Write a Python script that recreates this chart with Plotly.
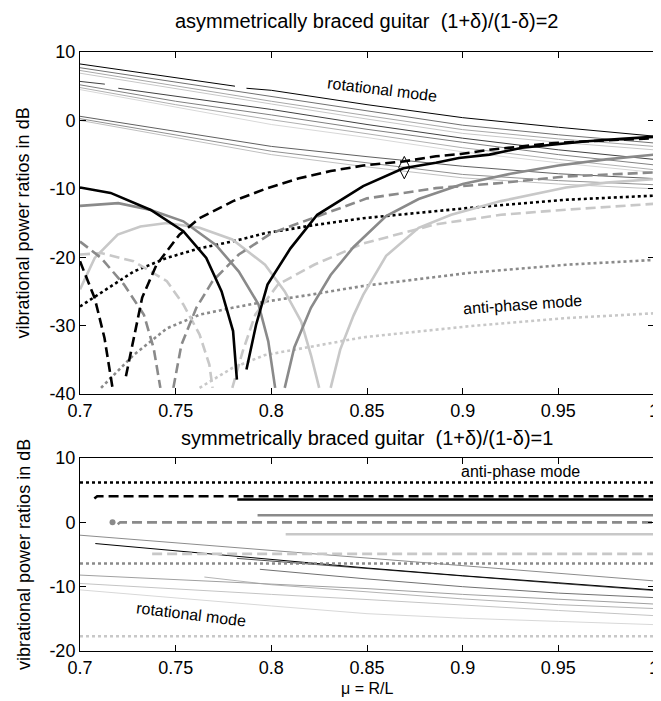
import plotly.graph_objects as go

# ---------------- axis ticks ----------------
MU_TICKS = [0.7, 0.75, 0.8, 0.85, 0.9, 0.95, 1.0]
MU_TICK_LABELS = ["0.7", "0.75", "0.8", "0.85", "0.9", "0.95", "1"]
TOP_DB_TICKS = [10, 0, -10, -20, -30, -40]
TOP_DB_LABELS = ["10", "0", "-10", "-20", "-30", "-40"]
BOT_DB_TICKS = [10, 0, -10, -20]
BOT_DB_LABELS = ["10", "0", "-10", "-20"]

TOP_TITLE = "asymmetrically braced guitar  (1+δ)/(1-δ)=2"
BOT_TITLE = "symmetrically braced guitar  (1+δ)/(1-δ)=1"
Y_TITLE = "vibrational power ratios in dB"
X_TITLE = "μ = R/L"

# ---------------- top panel: thin "rotational mode" curves ----------------
rot_mu = [0.7, 0.75, 0.8, 0.85, 0.9, 0.95, 1.0]
rot_top_1_mu = [0.7, 0.75, 0.781, None, 0.787, 0.8, 0.85, 0.9, 0.95, 1.0]
rot_top_1 = [8.25, 6.3, 5.0, None, 4.7, 4.4, 2.3, 0.4, -1.0, -2.3]
rot_top_2 = [7.7, 5.6, 3.5, 1.5, -0.7, -2.1, -3.3]
rot_top_3 = [7.3, 5.0, 2.8, 0.7, -1.35, -2.7, -3.8]
rot_top_4 = [6.9, 4.6, 2.4, 0.2, -1.9, -3.2, -4.3]
rot_top_5_mu = [0.7, 0.713, None, 0.72, 0.75, 0.8, 0.85, 0.9, 0.95, 1.0]
rot_top_5 = [5.7, 5.3, None, 4.7, 3.5, 1.6, -0.6, -2.6, -4.3, -5.7]
rot_top_6 = [5.2, 2.8, 0.8, -1.3, -3.2, -5.0, -6.5]
rot_top_7 = [4.8, 2.3, 0.1, -2.0, -4.0, -5.7, -7.2]
rot_top_8 = [4.5, 2.0, -0.6, -2.5, -4.6, -6.2, -7.6]
rot_top_9 = [0.6, -1.6, -3.8, -5.3, -6.7, -7.8, -8.5]
rot_top_10 = [0.25, -2.1, -4.5, -6.2, -7.9, -8.8, -9.4]
rot_top_11 = [0.0, -2.5, -5.0, -6.8, -8.4, -9.3, -10.0]

# ---------------- top panel: thick curves ----------------
bsolid_mu = [0.7, 0.716, 0.737, 0.754, 0.766, 0.774, 0.780, 0.782, None,
             0.787, 0.792, 0.798, 0.810, 0.824, 0.838, 0.848, 0.869, 0.886, 0.898,
             0.914, 0.931, 0.948, 0.965, 0.983, 1.0]
bsolid_db = [-9.8, -10.6, -13.1, -16.2, -20.1, -25.0, -30.8, -37.9, None,
             -36.4, -29.9, -24.0, -18.7, -13.8, -11.3, -9.6, -7.0, -6.2, -5.5,
             -5.0, -4.0, -3.55, -3.05, -2.7, -2.4]

bdash_mu = [0.7, 0.7077, 0.7128, 0.717, None, 0.724, 0.7283, 0.7325, 0.740, 0.752,
            0.7625, 0.780, 0.797, 0.814, 0.831, 0.848, 0.869, 0.886, 0.899, 0.914,
            0.931, 0.948, 0.965, 1.0]
bdash_db = [-20.6, -26.0, -31.8, -39.1, None, -37.4, -31.3, -25.9, -21.1, -16.7,
            -14.3, -11.8, -10.0, -8.5, -7.4, -6.6, -6.0, -5.25, -4.9, -4.3,
            -3.8, -3.3, -3.05, -2.6]

gsolid_mu = [0.7, 0.72, 0.737, 0.754, 0.771, 0.783, 0.7933, 0.7984, 0.802, None,
             0.807, 0.812, 0.8207, 0.831, 0.843, 0.86, 0.877, 0.9, 0.925, 0.95, 0.975, 1.0]
gsolid_db = [-12.5, -12.1, -13.1, -14.75, -18.2, -22.1, -26.9, -32.3, -39.1, None,
             -39.1, -33.2, -27.4, -22.6, -18.5, -14.0, -11.5, -9.3, -7.8, -6.6, -5.7, -5.0]

gdash_mu = [0.7, 0.711, 0.723, 0.7334, 0.7385, 0.742, None, 0.7488, 0.753, 0.7608,
            0.7693, 0.783, 0.8, 0.8224, 0.85, 0.886, 0.92, 0.954, 1.0]
gdash_db = [-17.7, -20.1, -24.0, -28.4, -33.3, -39.1, None, -39.1, -32.8, -27.4,
            -23.5, -19.6, -16.5, -14.2, -11.4, -9.9, -9.15, -8.2, -7.6]

lsolid_mu = [0.7, 0.7077, 0.7197, 0.7316, 0.7454, 0.7625, 0.7796, 0.7967, 0.807,
             0.8156, 0.8207, 0.825, None, 0.831, 0.836, 0.843, 0.848, 0.86, 0.877,
             0.894, 0.92, 0.954, 0.975, 1.0]
lsolid_db = [-24.7, -20.1, -16.7, -15.5, -15.0, -15.7, -17.4, -21.1, -25.0,
             -29.4, -34.3, -39.1, None, -39.1, -33.5, -28.5, -25.5, -19.8, -15.7,
             -13.8, -11.8, -9.8, -9.1, -8.6]

ldash_mu = [0.7, 0.711, 0.728, 0.7454, 0.754, 0.7625, 0.7676, 0.7693, None, 0.7796,
            0.785, 0.7916, 0.8035, 0.8224, 0.848, 0.8857, 0.92, 0.954, 1.0]
ldash_db = [-19.6, -19.4, -20.6, -23.5, -26.9, -31.3, -35.7, -39.1, None, -39.1,
            -33.8, -28.4, -24.0, -21.1, -18.0, -15.2, -13.8, -13.05, -12.2]

bdot_mu = [0.7, 0.7094, 0.728, 0.7454, 0.7625, 0.7796, 0.7967, 0.8224, 0.848, 0.903, 0.954, 1.0]
bdot_db = [-27.2, -25.5, -22.1, -20.1, -18.7, -17.7, -16.5, -15.3, -14.3, -12.8, -11.6, -11.0]

gdot_mu = [0.711, 0.728, 0.7454, 0.7625, 0.7796, 0.7967, 0.8224, 0.848, 0.903, 0.954, 1.0]
gdot_db = [-39.1, -34.3, -30.4, -28.4, -27.4, -26.5, -25.4, -24.2, -22.3, -21.1, -20.4]

ldot_mu = [0.7625, 0.7796, 0.7967, 0.8224, 0.848, 0.903, 0.954, 1.0]
ldot_db = [-39.1, -36.2, -34.3, -33.0, -31.7, -30.1, -28.9, -28.2]

marker_mu = [0.8695]
marker_db = [-6.9]

# ---------------- bottom panel: horizontal (anti-phase) lines ----------------
sym_bdot_mu = [0.7, 1.0];            sym_bdot_db = [6.2, 6.2]
sym_bdash_mu = [0.7075, 0.709, 1.0]; sym_bdash_db = [3.7, 4.05, 4.05]
sym_bsolid_mu = [0.7822, 1.0];       sym_bsolid_db = [3.55, 3.55]
sym_gsolid_mu = [0.7928, 1.0];       sym_gsolid_db = [1.1, 1.1]
sym_gdash_mu = [0.7197, 0.721, 1.0]; sym_gdash_db = [-0.3, 0.0, 0.0]
sym_gdash_dot_mu = [0.717];          sym_gdash_dot_db = [0.0]
sym_lsolid_mu = [0.8075, 1.0];       sym_lsolid_db = [-1.85, -1.85]
sym_ldash_mu = [0.7377, 1.0];        sym_ldash_db = [-4.9, -4.9]
sym_gdot_mu = [0.7, 1.0];            sym_gdot_db = [-6.4, -6.4]
sym_ldot_mu = [0.7, 1.0];            sym_ldot_db = [-17.7, -17.7]

# ---------------- bottom panel: thin rotational lines ----------------
rot_bot_mu_full = [0.7, 0.75, 0.8, 0.85, 0.9, 0.95, 1.0]
rot_bot_1 = [-2.0, -3.2, -4.4, -5.6, -6.8, -8.0, -9.1]
rot_bot_2_mu = [0.708, 0.75, 0.8, 0.85, 0.9, 0.95, 1.0]
rot_bot_2 = [-3.3, -4.4, -5.8, -7.1, -8.3, -9.4, -10.5]
rot_bot_3_mu = [0.782, 0.85, 0.9, 0.95, 1.0]
rot_bot_3 = [-5.6, -7.2, -8.4, -9.5, -10.6]
rot_bot_4_mu = [0.794, 0.85, 0.9, 0.95, 1.0]
rot_bot_4 = [-7.3, -8.8, -10.0, -11.0, -11.7]
rot_bot_5 = [-8.2, -8.9, -9.6, -10.3, -11.2, -12.0, -12.7]
rot_bot_6_mu = [0.765, 0.8, 0.85, 0.9, 0.95, 1.0]
rot_bot_6 = [-8.5, -9.7, -10.8, -11.9, -12.8, -13.4]
rot_bot_7 = [-9.5, -10.4, -11.2, -12.0, -12.9, -13.7, -14.5]
rot_bot_8 = [-10.5, -11.8, -13.0, -14.2, -14.9, -15.4, -15.9]

# ---------------- styles ----------------
BLACK = "#000000"
GRAY = "#8a8a8a"
LIGHT = "#c8c8c8"
DASH = "10px,5px"
DOT = "3px,3px"
THICK = 2.6
FONT = "Liberation Sans, Arial, sans-serif"

fig = go.Figure()


def add(mu, db, color, width=1.0, dash="solid", panel=1):
    fig.add_trace(go.Scatter(
        x=mu, y=db, mode="lines",
        line=dict(color=color, width=width, dash=dash),
        xaxis="x" if panel == 1 else "x2",
        yaxis="y" if panel == 1 else "y2",
        hoverinfo="skip", showlegend=False, connectgaps=False))


# top thin lines
add(rot_mu, rot_top_11, "#c0c0c0")
add(rot_mu, rot_top_10, "#909090")
add(rot_mu, rot_top_9, "#606060")
add(rot_mu, rot_top_8, "#d8d8d8")
add(rot_mu, rot_top_7, "#b0b0b0")
add(rot_mu, rot_top_6, "#808080")
add(rot_top_5_mu, rot_top_5, "#404040")
add(rot_mu, rot_top_4, "#c8c8c8")
add(rot_mu, rot_top_3, "#a8a8a8")
add(rot_mu, rot_top_2, "#707070")
add(rot_top_1_mu, rot_top_1, "#000000")

# top thick lines
add(ldot_mu, ldot_db, LIGHT, THICK, DOT)
add(gdot_mu, gdot_db, GRAY, THICK, DOT)
add(bdot_mu, bdot_db, BLACK, THICK, DOT)
add(ldash_mu, ldash_db, LIGHT, THICK, DASH)
add(lsolid_mu, lsolid_db, LIGHT, THICK)
add(gdash_mu, gdash_db, GRAY, THICK, DASH)
add(gsolid_mu, gsolid_db, GRAY, THICK)
add(bdash_mu, bdash_db, BLACK, THICK, DASH)
add(bsolid_mu, bsolid_db, BLACK, THICK)

fig.add_trace(go.Scatter(x=marker_mu, y=marker_db, mode="markers",
                         marker=dict(symbol="diamond-tall-open", size=16, color=BLACK,
                                     line=dict(width=1, color=BLACK)),
                         hoverinfo="skip", showlegend=False, xaxis="x", yaxis="y"))

# bottom thin lines
add(rot_bot_mu_full, rot_bot_8, "#d8d8d8", 1.0, panel=2)
add(rot_bot_mu_full, rot_bot_7, "#c4c4c4", 1.0, panel=2)
add(rot_bot_6_mu, rot_bot_6, "#b4b4b4", 1.0, panel=2)
add(rot_bot_mu_full, rot_bot_5, "#a0a0a0", 1.0, panel=2)
add(rot_bot_4_mu, rot_bot_4, "#707070", 1.0, panel=2)
add(rot_bot_3_mu, rot_bot_3, "#505050", 1.0, panel=2)
add(rot_bot_mu_full, rot_bot_1, "#8c8c8c", 1.0, panel=2)
add(rot_bot_2_mu, rot_bot_2, BLACK, 1.0, panel=2)

# bottom thick lines
add(sym_ldot_mu, sym_ldot_db, LIGHT, THICK, DOT, 2)
add(sym_gdot_mu, sym_gdot_db, GRAY, THICK, DOT, 2)
add(sym_bdot_mu, sym_bdot_db, BLACK, THICK, DOT, 2)
add(sym_ldash_mu, sym_ldash_db, LIGHT, THICK, DASH, 2)
add(sym_lsolid_mu, sym_lsolid_db, LIGHT, THICK, "solid", 2)
add(sym_gdash_mu, sym_gdash_db, GRAY, THICK, DASH, 2)
add(sym_gsolid_mu, sym_gsolid_db, GRAY, THICK, "solid", 2)
add(sym_bsolid_mu, sym_bsolid_db, BLACK, THICK, "solid", 2)
add(sym_bdash_mu, sym_bdash_db, BLACK, THICK, DASH, 2)
fig.add_trace(go.Scatter(x=sym_gdash_dot_mu, y=sym_gdash_dot_db, mode="markers",
                         marker=dict(symbol="circle", size=6, color=GRAY),
                         hoverinfo="skip", showlegend=False, xaxis="x2", yaxis="y2"))

axis_common = dict(showline=True, linecolor="black", linewidth=1, mirror="allticks",
                   ticks="inside", ticklen=6, tickcolor="black", showgrid=False,
                   zeroline=False, ticklabeloverflow="allow",
                   tickfont=dict(family=FONT, size=18, color="black"))

TOP_DOMAIN = [0.4290, 1.0]
BOT_DOMAIN = [0.0, 0.3222]

fig.update_layout(
    width=661, height=701,
    margin=dict(l=72, r=10, t=44, b=58),
    paper_bgcolor="white", plot_bgcolor="white",
    showlegend=False,
    xaxis=dict(domain=[0, 1], range=[0.7, 1.0], anchor="y", tickvals=MU_TICKS,
               ticktext=MU_TICK_LABELS, **axis_common),
    yaxis=dict(domain=TOP_DOMAIN, range=[-40, 10], anchor="x", tickvals=TOP_DB_TICKS,
               ticktext=TOP_DB_LABELS, **axis_common),
    xaxis2=dict(domain=[0, 1], range=[0.7, 1.0], anchor="y2", tickvals=MU_TICKS,
                ticktext=MU_TICK_LABELS, **axis_common),
    yaxis2=dict(domain=BOT_DOMAIN, range=[-20, 10], anchor="x2", tickvals=BOT_DB_TICKS,
                ticktext=BOT_DB_LABELS, **axis_common),
)

title_font = dict(family=FONT, size=20, color="black")
label_font = dict(family=FONT, size=18, color="black")
xlabel_font = dict(family=FONT, size=16, color="black")
note_font = dict(family=FONT, size=16, color="black")
ann = [
    dict(text=TOP_TITLE, xref="paper", yref="paper", x=0.5, y=1.0518, showarrow=False,
         font=title_font, xanchor="center", yanchor="middle"),
    dict(text=BOT_TITLE, xref="paper", yref="paper", x=0.5, y=0.3556, showarrow=False,
         font=title_font, xanchor="center", yanchor="middle"),
    dict(text=Y_TITLE, xref="paper", yref="paper", x=-0.0985, y=sum(TOP_DOMAIN) / 2,
         textangle=-90, showarrow=False, font=label_font, xanchor="center", yanchor="middle"),
    dict(text=Y_TITLE, xref="paper", yref="paper", x=-0.0985, y=sum(BOT_DOMAIN) / 2,
         textangle=-90, showarrow=False, font=label_font, xanchor="center", yanchor="middle"),
    dict(text=X_TITLE, xref="paper", yref="paper", x=0.5, y=-0.0634, showarrow=False,
         font=xlabel_font, xanchor="center", yanchor="middle"),
    dict(text="rotational mode", xref="x", yref="y", x=0.8578, y=4.45, textangle=7,
         showarrow=False, font=note_font),
    dict(text="anti-phase mode", xref="x", yref="y", x=0.9315, y=-26.9, textangle=-4,
         showarrow=False, font=note_font),
    dict(text="anti-phase mode", xref="x2", yref="y2", x=0.93, y=7.9, textangle=0,
         showarrow=False, font=note_font),
    dict(text="rotational mode", xref="x2", yref="y2", x=0.7582, y=-14.4, textangle=7,
         showarrow=False, font=note_font),
]
fig.update_layout(annotations=ann)

fig.write_html("out.html")
